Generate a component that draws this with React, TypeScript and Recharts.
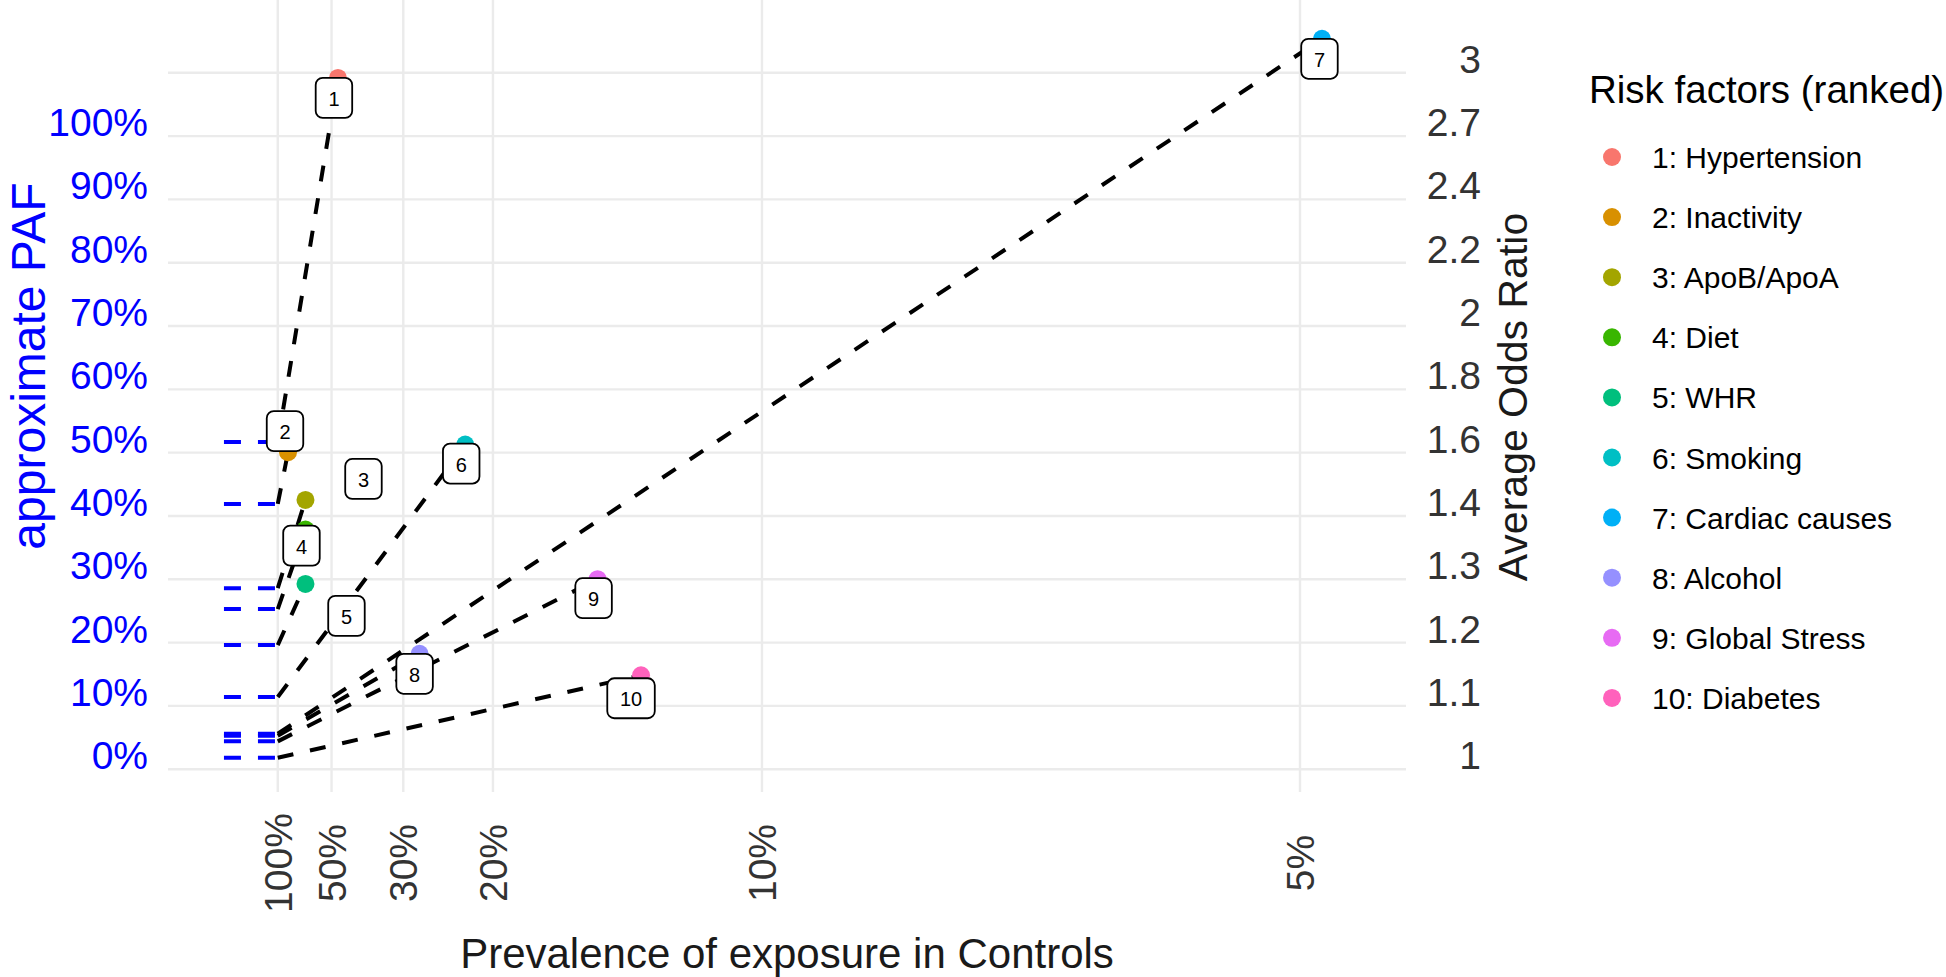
import React from 'react';
import { ComposedChart, Scatter, XAxis, YAxis, CartesianGrid } from 'recharts';

// ---------- data ----------
const factorNames = [
  '1: Hypertension', '2: Inactivity', '3: ApoB/ApoA', '4: Diet', '5: WHR',
  '6: Smoking', '7: Cardiac causes', '8: Alcohol', '9: Global Stress', '10: Diabetes',
];
const factorColors = [
  '#F8766D', '#D89000', '#A3A500', '#39B600', '#00BF7D',
  '#00BFC4', '#00B0F6', '#9590FF', '#E76BF3', '#FF62BC',
];
// prevalence of exposure in controls (fraction)
const prevalence = [0.472, 0.84, 0.66, 0.66, 0.66, 0.223, 0.049, 0.275, 0.144, 0.129];
// average odds ratio
const oddsRatio = [2.98, 1.65, 1.53, 1.46, 1.34, 1.67, 3.17, 1.2, 1.35, 1.16];
// approximate PAF (%)
const pafValues = [51.7, 41.9, 28.6, 25.3, 19.6, 11.4, 5.6, 5.3, 4.4, 1.8];

const xTickPrevalence = [1, 0.5, 0.3, 0.2, 0.1, 0.05];
const xTickLabels = ['100%', '50%', '30%', '20%', '10%', '5%'];
const pafTicks = [0, 10, 20, 30, 40, 50, 60, 70, 80, 90, 100];
const pafTickLabels = ['0%', '10%', '20%', '30%', '40%', '50%', '60%', '70%', '80%', '90%', '100%'];
const orTickPos = [0, 10, 20, 30, 40, 50, 60, 70, 80, 90, 100, 110];
const orTickLabels = ['1', '1.1', '1.2', '1.3', '1.4', '1.6', '1.8', '2', '2.2', '2.4', '2.7', '3'];

// label placement offsets (px) relative to each point (repel result)
const labelNudge: [number, number][] = [
  [-4, 20], [-3, -21], [58, -21], [-4, 16], [41, 32],
  [-4, 19], [-2.5, 20], [-5, 20], [-4, 19], [-10, 23],
];

// ---------- derived tables ----------
const toX = (p: number) => 1 / p;
const toY = (or: number) => 100 * Math.log(or);

const points = factorNames.map((name, i) => ({
  x: toX(prevalence[i]),
  y: toY(oddsRatio[i]),
  color: factorColors[i],
  label: String(i + 1),
  nudge: labelNudge[i],
}));

const connectors = factorNames.map((_, i) => [
  { x: 1, y: pafValues[i] },
  { x: toX(prevalence[i]), y: toY(oddsRatio[i]) },
]);

const pafDashes = factorNames.map((_, i) => [
  { x: 0, y: pafValues[i] },
  { x: 1, y: pafValues[i] },
]);

const xTicks = xTickPrevalence.map(toX);

const FONT = '"Liberation Sans", Arial, Helvetica, sans-serif';
const W = 1946;
const H = 977;

const Empty = () => <g />;

const PointShape = (props: any) => {
  const { cx, cy, payload } = props;
  return <circle cx={cx} cy={cy} r={9} fill={payload.color} />;
};

const LabelShape = (props: any) => {
  const { cx, cy, payload } = props;
  const [dx, dy] = payload.nudge;
  const w = 25.5 + 11 * payload.label.length;
  const h = 40;
  const x = cx + dx;
  const y = cy + dy;
  return (
    <g>
      <rect x={x - w / 2} y={y - h / 2} width={w} height={h} rx={7} ry={7}
        fill="#FFFFFF" stroke="#000000" strokeWidth={1.8} />
      <text x={x} y={y + 8} textAnchor="middle" fontFamily={FONT} fontSize={20} fill="#000">
        {payload.label}
      </text>
    </g>
  );
};

const LeftTick = (props: any) => {
  const { y, payload } = props;
  const idx = pafTicks.indexOf(payload.value);
  return (
    <text x={148} y={y} textAnchor="end" fontFamily={FONT} fontSize={39} fill="#0000FF">
      {pafTickLabels[idx]}
    </text>
  );
};

const RightTick = (props: any) => {
  const { y, payload } = props;
  const idx = orTickPos.indexOf(payload.value);
  return (
    <text x={1481} y={y} textAnchor="end" fontFamily={FONT} fontSize={39} fill="#333333">
      {orTickLabels[idx]}
    </text>
  );
};

const BottomTick = (props: any) => {
  const { x, payload } = props;
  const idx = xTicks.findIndex((t) => Math.abs(t - payload.value) < 1e-6);
  return (
    <text transform={`translate(${x + 14},863) rotate(-90)`} textAnchor="middle"
      fontFamily={FONT} fontSize={39} fill="#333333">
      {xTickLabels[idx]}
    </text>
  );
};

export default function App() {
  return (
    <div style={{ position: 'absolute', left: 0, top: 0, width: W, height: H, background: '#fff', overflow: 'hidden' }}>
      <ComposedChart width={W} height={H} margin={{ top: 0, right: 440, bottom: 0, left: 0 }}>
        <CartesianGrid stroke="#EBEBEB" strokeWidth={2.4}
          horizontalValues={orTickPos} verticalValues={xTicks} yAxisId="l" />
        <XAxis type="number" dataKey="x" domain={[-1.04, 21.97]} allowDataOverflow
          ticks={xTicks} tick={<BottomTick />} height={185} axisLine={false} tickLine={false}
          interval={0} />
        <YAxis yAxisId="l" type="number" dataKey="y" domain={[-3.6, 121.5]} allowDataOverflow
          ticks={pafTicks} tick={<LeftTick />} width={168} axisLine={false} tickLine={false}
          interval={0} />
        <YAxis yAxisId="r" orientation="right" type="number" dataKey="y" domain={[-3.6, 121.5]}
          allowDataOverflow ticks={orTickPos} tick={<RightTick />} width={100} axisLine={false}
          tickLine={false} interval={0} />

        {pafDashes.map((d, i) => (
          <Scatter key={`paf-${i}`} yAxisId="l" data={d} shape={<Empty />}
            line={{ stroke: '#0000FF', strokeWidth: 4, strokeDasharray: '17 17' }}
            lineType="joint" isAnimationActive={false} />
        ))}
        {connectors.map((d, i) => (
          <Scatter key={`con-${i}`} yAxisId="l" data={d} shape={<Empty />}
            line={{ stroke: '#000000', strokeWidth: 4, strokeDasharray: '16 17' }}
            lineType="joint" isAnimationActive={false} />
        ))}
        <Scatter yAxisId="l" data={points} shape={<PointShape />} isAnimationActive={false} />
        <Scatter yAxisId="l" data={points} shape={<LabelShape />} isAnimationActive={false} />
      </ComposedChart>

      <svg width={W} height={H} style={{ position: 'absolute', left: 0, top: 0, pointerEvents: 'none' }}>
        <text transform="translate(45,366) rotate(-90)" textAnchor="middle" fontFamily={FONT}
          fontSize={48} fill="#0000FF">approximate PAF</text>
        <text transform="translate(1527,397) rotate(-90)" textAnchor="middle" fontFamily={FONT}
          fontSize={41} fill="#1A1A1A">Average Odds Ratio</text>
        <text x={787} y={968} textAnchor="middle" fontFamily={FONT} fontSize={42}
          fill="#1A1A1A">Prevalence of exposure in Controls</text>

        <text x={1589} y={103} fontFamily={FONT} fontSize={38.5} fill="#000">Risk factors (ranked)</text>
        {factorNames.map((name, i) => {
          const cy = 157 + 60.1 * i;
          return (
            <g key={name}>
              <circle cx={1612} cy={cy} r={9} fill={factorColors[i]} />
              <text x={1652} y={cy + 11} fontFamily={FONT} fontSize={30} fill="#000">{name}</text>
            </g>
          );
        })}
      </svg>
    </div>
  );
}
